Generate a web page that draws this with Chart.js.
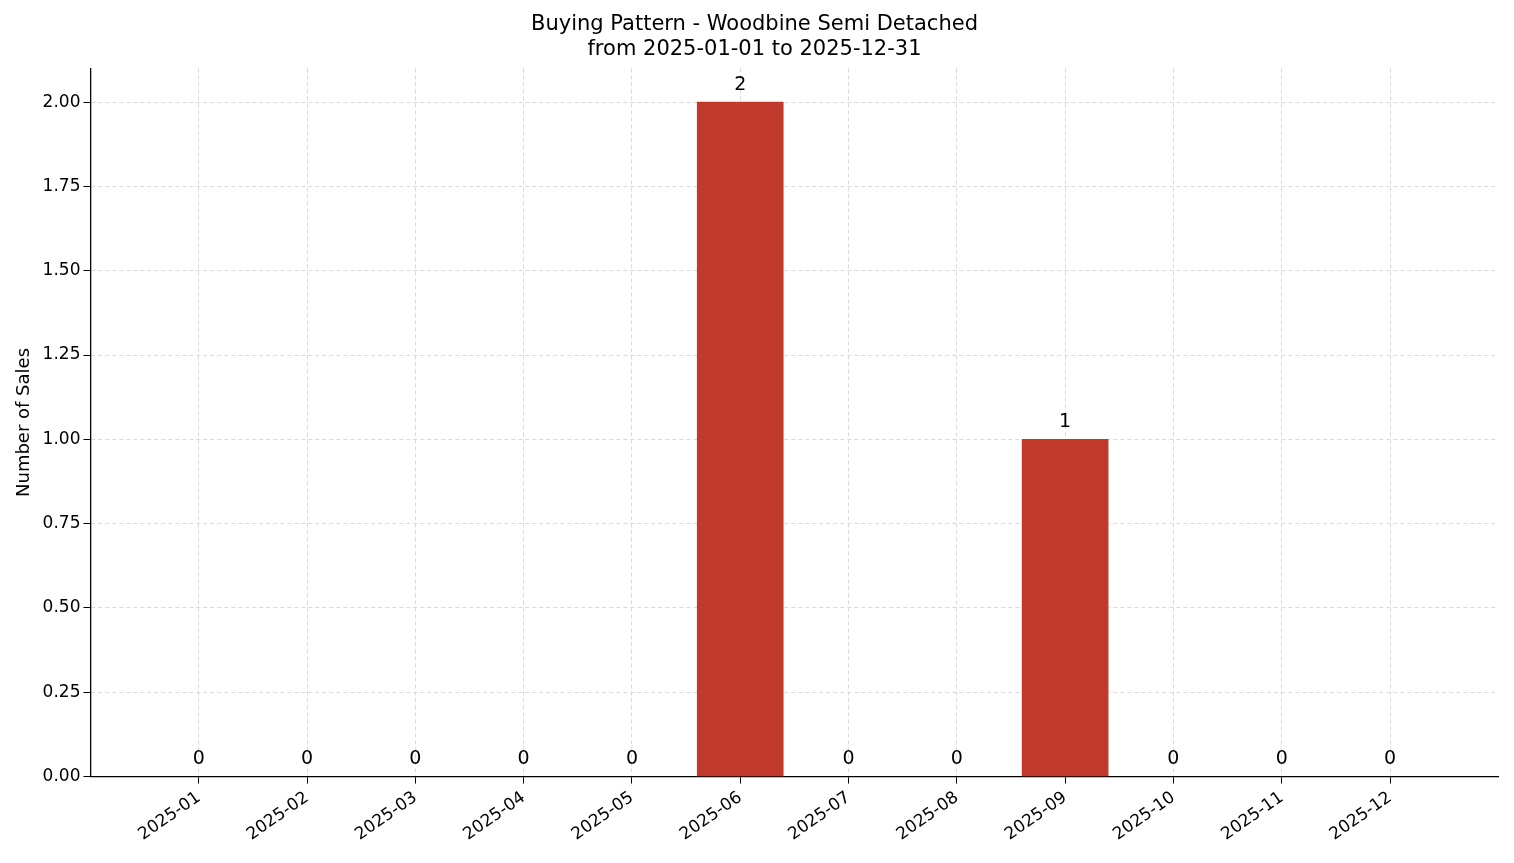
<!DOCTYPE html>
<html><head><meta charset="utf-8">
<script src="https://cdn.jsdelivr.net/npm/chart.js@4"></script>
<style>html,body{margin:0;padding:0;background:#fff}#w{width:1514px;height:863px}</style>
</head><body><div id="w"><canvas id="c"></canvas></div>
<script>
const months = ['2025-01','2025-02','2025-03','2025-04','2025-05','2025-06','2025-07','2025-08','2025-09','2025-10','2025-11','2025-12'];
const sales = [0,0,0,0,0,2,0,0,1,0,0,0];
const yTicks = [0,0.25,0.5,0.75,1,1.25,1.5,1.75,2];

const labels = [''].concat(months, ['']);
const data = [null].concat(sales, [null]);
const F = 'DejaVu Sans';
const valLabels = {
  id:'valLabels',
  afterDatasetsDraw(chart){
    const ctx = chart.ctx, meta = chart.getDatasetMeta(0);
    ctx.save(); ctx.font = '19px '+F; ctx.fillStyle='#000'; ctx.textAlign='center'; ctx.textBaseline='bottom';
    meta.data.forEach((el,i)=>{ if(data[i]===null) return; ctx.fillText(String(data[i]), el.x, el.y-8); });
    ctx.restore();
  }
};
new Chart(document.getElementById('c'), {
  type:'bar',
  data:{labels, datasets:[{data, backgroundColor:(c)=>data[c.dataIndex]?'#c0392b':'rgba(0,0,0,0)', barThickness:86}]},
  options:{
    responsive:true, maintainAspectRatio:false, animation:false,
    layout:{padding:{left:10, right:15, top:8, bottom:14}},
    plugins:{legend:{display:false}, tooltip:{enabled:false},
      title:{display:true, text:['Buying Pattern - Woodbine Semi Detached','from 2025-01-01 to 2025-12-31'],
        font:{family:F,size:21,weight:'normal'}, color:'#000', padding:{top:4,bottom:6}, lineHeight:1.2}},
    scales:{
      x:{offset:false,
        grid:{offset:false, color:(c)=> (c.index===0||c.index===13)?'rgba(0,0,0,0)':'#d9d9d9', drawTicks:true, tickLength:7, tickColor:(c)=>(c.index===0||c.index===13)?'rgba(0,0,0,0)':'#000'},
        border:{color:'#000', width:1.3, dash:[4,3]},
        ticks:{color:'#000', font:{family:F,size:17}, maxRotation:35, minRotation:35, autoSkip:false, padding:4}},
      y:{min:0, max:2.1,
        afterBuildTicks:(s)=>{s.ticks = yTicks.map(v=>({value:v}));},
        grid:{color:'#d9d9d9', tickLength:7, tickColor:'#000'},
        border:{color:'#000', width:1.3, dash:[4,3]},
        ticks:{color:'#000', font:{family:F,size:17}, callback:(v)=>Number(v).toFixed(2)},
        title:{display:true, text:'Number of Sales', color:'#000', font:{family:F,size:18}}}
    }
  },
  plugins:[valLabels]
});
</script></body></html>
